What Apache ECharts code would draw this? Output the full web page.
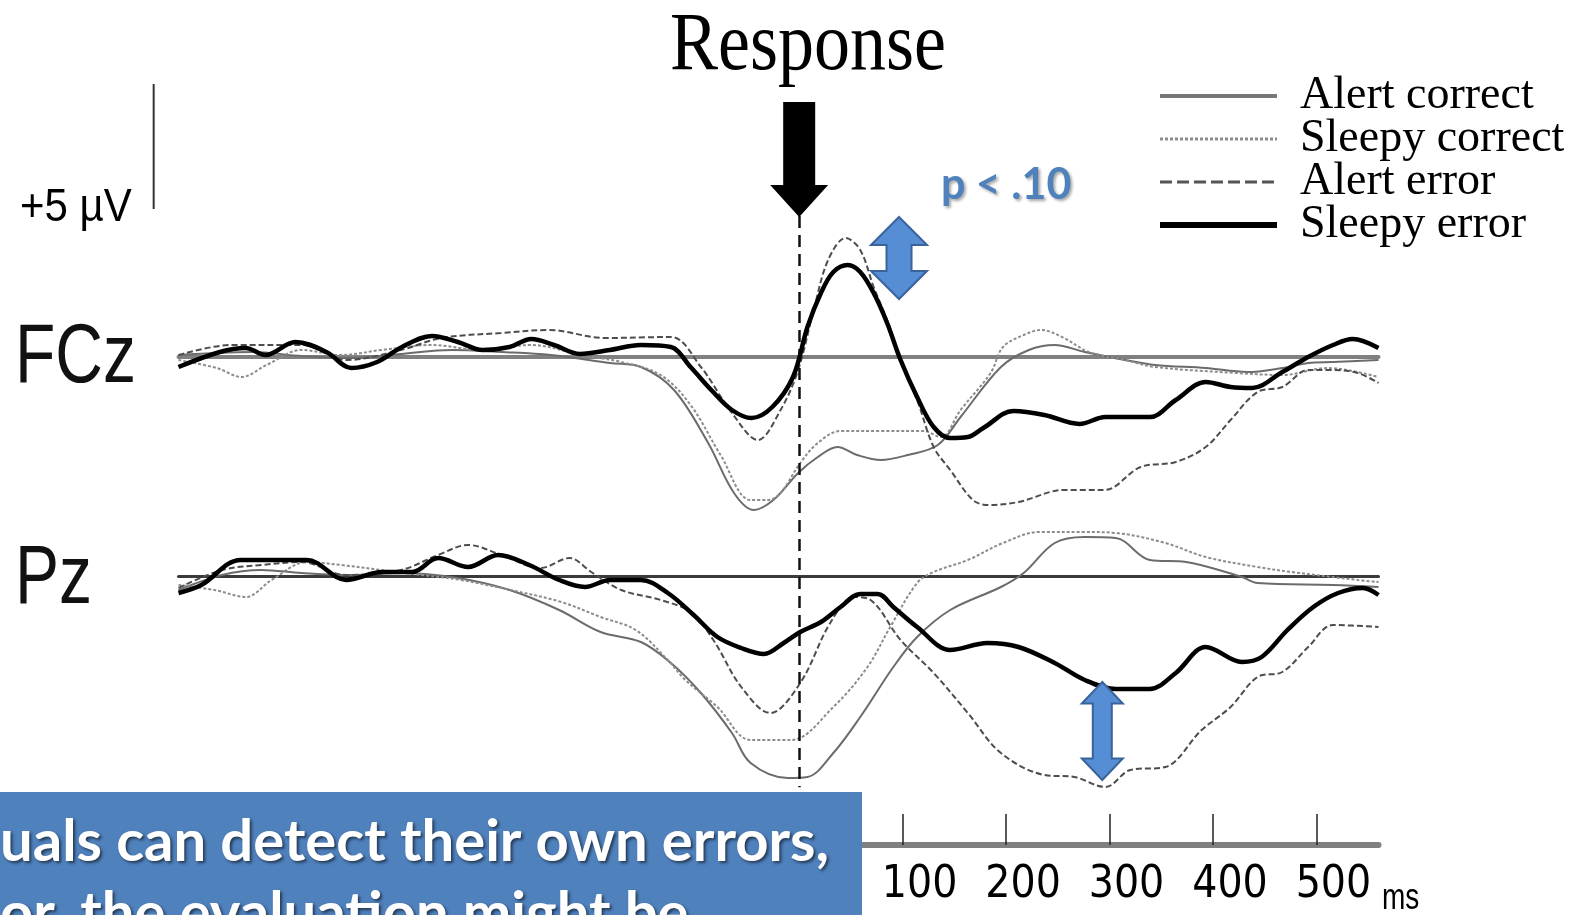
<!DOCTYPE html>
<html><head><meta charset="utf-8">
<script src="https://cdn.jsdelivr.net/npm/echarts@6/dist/echarts.min.js"></script>
<style>html,body{margin:0;padding:0;background:#fff}#c{width:1593px;height:915px}</style>
</head><body><div id="c"></div>
<script>
// ---- data (time in ms relative to response, amplitude in µV) ----
const seriesNames = ['Alert correct', 'Sleepy correct', 'Alert error', 'Sleepy error'];
const channelNames = ['FCz', 'Pz'];
const tickLabels = [100, 200, 300, 400, 500];

const fczAlertCorrect = [[-600,0.08],[-529,0.2],[-481,0.04],[-433,-0.04],[-385,0.12],[-336,0.28],[-288,0.2],[-240,0.08],[-183,-0.24],[-153,-0.4],[-121,-1.32],[-88,-3.44],[-63,-5.44],[-44,-6.12],[-25,-5.72],[-1,-4.64],[18,-4.0],[37,-3.6],[56,-3.92],[79,-4.12],[105,-3.92],[134,-3.52],[156,-2.4],[195,-0.4],[222,0.28],[247,0.48],[276,0.2],[315,-0.12],[344,-0.32],[393,-0.44],[433,-0.6],[467,-0.44],[492,-0.24],[516,-0.2],[560,-0.12]];
const fczSleepyCorrect = [[-600,-0.12],[-563,-0.44],[-539,-0.8],[-515,-0.32],[-481,0.28],[-443,0.08],[-404,0.28],[-356,0.48],[-307,0.28],[-259,0.48],[-211,0.08],[-172,-0.2],[-134,-0.72],[-105,-1.92],[-76,-3.92],[-47,-5.72],[-30,-5.72],[-18,-5.44],[1,-4.24],[18,-3.44],[40,-2.96],[79,-2.96],[120,-2.96],[137,-3.2],[156,-2.12],[185,-0.64],[197,0.4],[217,0.88],[234,1.08],[256,0.76],[280,0.2],[315,-0.12],[344,-0.4],[423,-0.64],[467,-0.72],[511,-0.44],[560,-0.8]];
const fczAlertError = [[-600,0.08],[-549,0.48],[-481,0.48],[-438,-0.12],[-385,0.28],[-346,0.76],[-288,0.96],[-242,1.08],[-188,0.76],[-124,0.8],[-95,-0.4],[-65,-2.24],[-40,-3.32],[-18,-2.12],[-1,-0.52],[14,1.88],[28,3.88],[45,4.76],[59,4.28],[72,2.8],[85,1.48],[98,-0.12],[114,-1.72],[130,-3.6],[146,-4.52],[168,-5.72],[183,-5.92],[212,-5.8],[256,-5.32],[295,-5.32],[330,-4.4],[364,-4.2],[393,-3.6],[417,-2.52],[443,-1.4],[467,-1.2],[492,-0.52],[516,-0.52],[540,-0.64],[560,-1.04]];
const fczSleepyError = [[-600,-0.4],[-560,0.2],[-535,0.36],[-516,0.08],[-487,0.6],[-457,0.2],[-433,-0.44],[-408,-0.2],[-384,0.4],[-355,0.84],[-330,0.6],[-306,0.28],[-280,0.4],[-259,0.72],[-237,0.48],[-212,0.12],[-183,0.28],[-153,0.48],[-124,0.4],[-105,-0.4],[-85,-1.32],[-65,-2.12],[-46,-2.44],[-26,-2.0],[-6,-0.8],[8,1.2],[21,2.56],[33,3.4],[47,3.68],[59,3.4],[72,2.56],[85,1.36],[98,-0.12],[114,-1.6],[130,-2.8],[146,-3.24],[163,-3.2],[178,-2.84],[207,-2.16],[237,-2.32],[271,-2.68],[296,-2.4],[339,-2.4],[364,-1.72],[393,-1.0],[417,-1.2],[438,-1.24],[467,-0.6],[492,0],[516,0.48],[535,0.72],[560,0.36]];

const pzAlertCorrect = [[-600,-0.56],[-558,0.04],[-520,0.24],[-481,0.12],[-433,0.04],[-385,0.12],[-330,-0.08],[-280,-0.56],[-232,-1.36],[-192,-2.24],[-153,-2.64],[-124,-3.48],[-95,-4.68],[-65,-6.28],[-47,-7.48],[-11,-8.08],[8,-8.04],[33,-7.08],[59,-5.64],[91,-3.64],[114,-2.44],[146,-1.36],[195,-0.44],[217,0.12],[247,1.32],[276,1.56],[306,1.52],[339,0.64],[374,0.56],[428,-0.04],[443,-0.28],[516,-0.36],[560,-0.44]];
const pzSleepyCorrect = [[-600,-0.36],[-565,-0.56],[-535,-0.84],[-510,-0.16],[-476,0.56],[-443,0.44],[-404,0.24],[-365,0.04],[-327,-0.16],[-279,-0.56],[-230,-1.04],[-192,-1.64],[-158,-2.16],[-127,-3.36],[-110,-4.16],[-79,-5.24],[-47,-6.56],[-8,-6.56],[33,-5.24],[66,-3.64],[88,-2.04],[114,-0.28],[130,0.16],[163,0.64],[197,1.32],[232,1.76],[276,1.76],[306,1.72],[354,1.32],[393,0.76],[443,0.36],[476,0.16],[540,-0.16],[560,-0.24]];
const pzAlertError = [[-600,-0.48],[-558,0.24],[-520,0.44],[-481,0.56],[-438,0.04],[-385,0.24],[-349,0.84],[-320,1.24],[-288,0.84],[-250,0.32],[-222,0.72],[-201,0.16],[-172,-0.56],[-134,-0.96],[-105,-1.44],[-83,-2.56],[-56,-4.44],[-28,-5.48],[1,-4.28],[30,-1.88],[53,-0.84],[69,-0.96],[98,-2.56],[130,-3.88],[163,-5.48],[195,-7.08],[237,-7.96],[266,-8.04],[296,-8.44],[320,-7.76],[354,-7.64],[389,-6.16],[417,-5.24],[443,-4.04],[467,-3.84],[492,-2.84],[516,-1.96],[560,-2.04]];
const pzSleepyError = [[-600,-0.68],[-578,-0.36],[-540,0.64],[-476,0.64],[-438,-0.16],[-403,0.16],[-374,0.16],[-349,0.72],[-320,0.36],[-291,0.84],[-261,0.44],[-232,-0.16],[-207,-0.44],[-183,-0.16],[-153,-0.16],[-127,-0.68],[-102,-1.56],[-79,-2.44],[-56,-2.88],[-34,-3.12],[-15,-2.68],[1,-2.24],[21,-1.84],[40,-1.24],[59,-0.72],[76,-0.72],[91,-1.24],[114,-2.04],[146,-2.96],[182,-2.68],[212,-2.84],[247,-3.48],[276,-4.16],[306,-4.52],[339,-4.52],[364,-3.88],[393,-2.84],[428,-3.44],[447,-3.24],[472,-2.16],[497,-1.24],[521,-0.68],[545,-0.48],[560,-0.76]];

const channelData = [
  [fczAlertCorrect, fczSleepyCorrect, fczAlertError, fczSleepyError],
  [pzAlertCorrect, pzSleepyCorrect, pzAlertError, pzSleepyError]
];

// ---- styles ----
const lineStyles = {
  'Alert correct':  { color: '#6b6b6b', width: 2,   type: 'solid' },
  'Sleepy correct': { color: '#8c8c8c', width: 2,   type: [3, 2] },
  'Alert error':    { color: '#4d4d4d', width: 2,   type: [6, 3] },
  'Sleepy error':   { color: '#000000', width: 4.5, type: 'solid' }
};
const legendLineStyles = {
  'Alert correct':  { color: '#777777', width: 4,   type: 'solid' },
  'Sleepy correct': { color: '#8c8c8c', width: 3,   type: [3, 2] },
  'Alert error':    { color: '#555555', width: 3,   type: [12, 5] },
  'Sleepy error':   { color: '#000000', width: 6,   type: 'solid' }
};

const chart = echarts.init(document.getElementById('c'), null, { renderer: 'canvas' });

const GL = 178.5, GW = 1200;
const series = [];
channelData.forEach((chan, ci) => {
  chan.forEach((d, si) => {
    const name = seriesNames[si];
    const s = {
      type: 'line', name: name, data: d,
      xAxisIndex: ci, yAxisIndex: ci,
      symbol: 'none', showSymbol: false,
      smooth: 0.35, silent: true, animation: false,
      lineStyle: Object.assign({}, lineStyles[name]),
      itemStyle: { color: lineStyles[name].color },
      z: name === 'Sleepy error' ? 6 : 3
    };
    if (ci === 1 && si === 3) {
      s.markLine = {
        silent: true, symbol: ['none', 'none'], label: { show: false },
        lineStyle: { color: '#111', width: 2.5, type: [12, 7] },
        data: [[{ coord: [0, 14.4] }, { coord: [0, -8.45] }]]
      };
    }
    series.push(s);
  });
});

const hiddenX = (gi, lineColor, lineWidth) => ({
  type: 'value', gridIndex: gi, min: -600, max: 560,
  axisLine: { show: true, onZero: true, lineStyle: { color: lineColor, width: lineWidth } },
  axisTick: { show: false }, axisLabel: { show: false }, splitLine: { show: false }
});

const option = {
  backgroundColor: '#fff',
  animation: false,
  grid: [
    { left: GL, width: GW, top: 57, height: 550 },   // FCz
    { left: GL, width: GW, top: 176, height: 700 },  // Pz
    { left: GL, width: GW, top: 800, height: 45 }    // time axis
  ],
  xAxis: [
    hiddenX(0, '#808080', 4),
    hiddenX(1, '#3a3a3a', 3),
    {
      type: 'value', gridIndex: 2, min: -600, max: 560, interval: 100,
      axisLine: { show: true, lineStyle: { color: '#808080', width: 6 } },
      axisTick: { show: true, inside: true, length: 31, customValues: tickLabels, lineStyle: { color: '#222', width: 1.5 } },
      axisLabel: {
        show: true, customValues: tickLabels, margin: 19, padding: [0, 0, 0, 34],
        fontFamily: "'Liberation Sans Narrow','Arial Narrow','DejaVu Sans Condensed',sans-serif",
        fontSize: 44, color: '#000'
      },
      splitLine: { show: false }
    }
  ],
  yAxis: [
    { type: 'value', gridIndex: 0, min: -10, max: 12, show: false },
    { type: 'value', gridIndex: 1, min: -12, max: 16, show: false },
    { type: 'value', gridIndex: 2, min: 0, max: 1, show: false }
  ],
  legend: {
    orient: 'vertical', left: 1152, top: 68,
    itemWidth: 117, itemHeight: 14, itemGap: -3,
    selectedMode: false,
    itemStyle: { opacity: 0 },
    data: seriesNames.map(n => ({ name: n, lineStyle: legendLineStyles[n], itemStyle: { opacity: 0 } })),
    textStyle: { fontFamily: "'Liberation Serif', serif", fontSize: 46, color: '#000', padding: [0, 0, 0, 18] }
  },
  series: series
};
chart.setOption(option);

// ---- annotations positioned through the axes ----
const P0 = v => chart.convertToPixel({ gridIndex: 0 }, v);
const P1 = v => chart.convertToPixel({ gridIndex: 1 }, v);

function doubleArrow(cx, yT, yB, hh, hl, sh) {
  return [[cx, yT], [cx + hh, yT + hl], [cx + sh, yT + hl], [cx + sh, yB - hl], [cx + hh, yB - hl],
          [cx, yB], [cx - hh, yB - hl], [cx - sh, yB - hl], [cx - sh, yT + hl], [cx - hh, yT + hl]];
}

const respTip = P0([0, 5.6]);
const respTop = P0([0, 10.2]);
const cxR = respTip[0];
const blackArrow = [[cxR - 16, respTop[1]], [cxR + 16, respTop[1]], [cxR + 16, respTip[1] - 32], [cxR + 29, respTip[1] - 32],
                    [cxR, respTip[1]], [cxR - 29, respTip[1] - 32], [cxR - 16, respTip[1] - 32]];

const fA = P0([96.5, 5.6]), fB = P0([96.5, 2.32]);
const pA = P1([293, -4.24]), pB = P1([293, -8.16]);

const barTop = P0([-624, 10.92]), barBot = P0([-624, 5.92]);

const shadow = { textShadowColor: 'rgba(0,0,0,0.55)', textShadowBlur: 3, textShadowOffsetX: 2, textShadowOffsetY: 2 };

chart.setOption({
  graphic: [
    { type: 'polygon', z: 20, shape: { points: blackArrow }, style: { fill: '#000' } },
    { type: 'polygon', z: 20, shape: { points: doubleArrow(fA[0], fA[1], fB[1], 28, 28, 12.5) }, style: { fill: '#558ed5', stroke: '#3a6399', lineWidth: 2 } },
    { type: 'polygon', z: 20, shape: { points: doubleArrow(pA[0], pA[1], pB[1], 20.5, 21.5, 9.5) }, style: { fill: '#558ed5', stroke: '#3a6399', lineWidth: 2 } },
    { type: 'line', z: 20, shape: { x1: barTop[0], y1: barTop[1], x2: barBot[0], y2: barBot[1] }, style: { stroke: '#333', lineWidth: 2 } },
    { type: 'text', z: 20, x: 808, y: 47, scaleY: 1.15, style: { text: 'Response', font: '72px "Liberation Serif"', fill: '#000', align: 'center', verticalAlign: 'middle' } },
    { type: 'text', z: 20, x: 20, y: 208, scaleY: 1.12, style: { text: '+5 µV', font: '42px "Liberation Sans"', fill: '#000', align: 'left', verticalAlign: 'middle' } },
    { type: 'text', z: 20, x: 15, y: 359, scaleY: 1.27, style: { text: channelNames[0], font: '66px "Liberation Sans"', fill: '#111', align: 'left', verticalAlign: 'middle' } },
    { type: 'text', z: 20, x: 15, y: 580, scaleY: 1.27, style: { text: channelNames[1], font: '66px "Liberation Sans"', fill: '#111', align: 'left', verticalAlign: 'middle' } },
    { type: 'text', z: 20, x: 941, y: 185, style: { text: 'p < .10', font: 'bold 43px Lato', fill: '#4f81bd', align: 'left', verticalAlign: 'middle', textShadowColor: 'rgba(0,0,0,0.35)', textShadowBlur: 3, textShadowOffsetX: 2, textShadowOffsetY: 2 } },
    { type: 'text', z: 20, x: 1382, y: 899, scaleY: 1.35, style: { text: 'ms', font: '28px "Liberation Sans"', fill: '#000', align: 'left', verticalAlign: 'middle' } },
    { type: 'rect', z: 50, shape: { x: 0, y: 792, width: 862, height: 130 }, style: { fill: '#4f81bd' } },
    { type: 'text', z: 51, x: 0, y: 842, style: Object.assign({ text: 'uals can detect their own errors,', font: 'bold 58px Lato', fill: '#fff', align: 'left', verticalAlign: 'middle' }, shadow) },
    { type: 'text', z: 51, x: 0, y: 914, style: Object.assign({ text: 'or, the evaluation might be', font: 'bold 58px Lato', fill: '#fff', align: 'left', verticalAlign: 'middle' }, shadow) }
  ]
});
</script>
</body></html>
